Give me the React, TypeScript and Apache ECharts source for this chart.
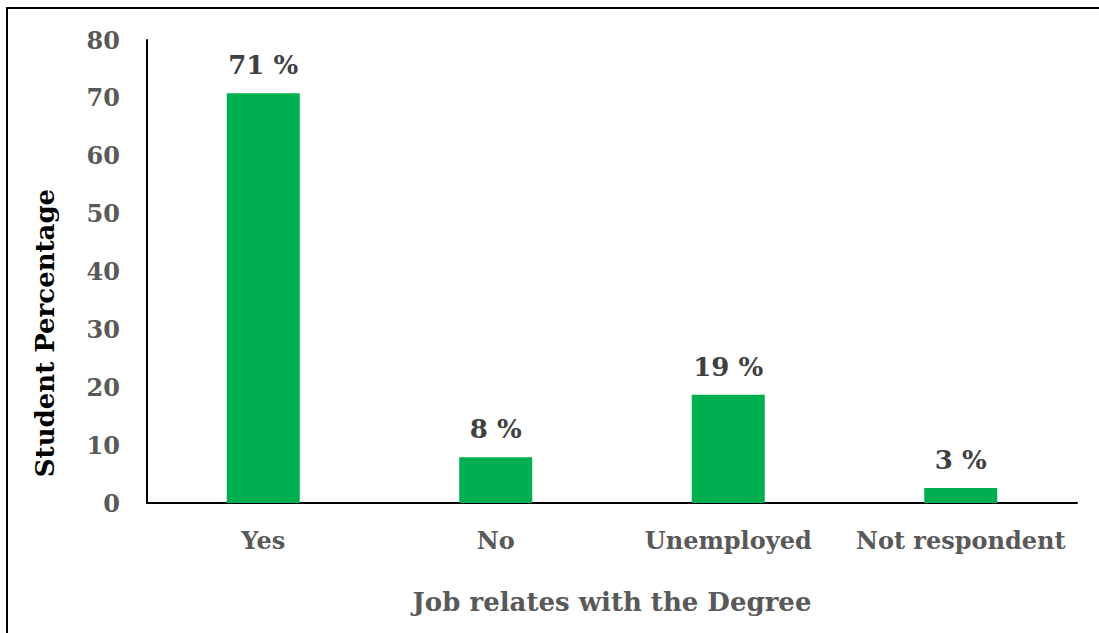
import React, { useEffect, useRef } from "react";
import * as echarts from "echarts";

const categories = ["Yes", "No", "Unemployed", "Not respondent"];
const values = [70.8, 7.9, 18.7, 2.6];
const labels = ["71 %", "8 %", "19 %", "3 %"];
const yTicks = [0, 10, 20, 30, 40, 50, 60, 70, 80];

const FONT = "'DejaVu Serif', serif";

export default function App() {
  const ref = useRef<HTMLDivElement>(null);
  useEffect(() => {
    document.body.style.margin = "0";
    const chart = echarts.init(ref.current!, null, { renderer: "svg" });
    chart.setOption({
      animation: false,
      backgroundColor: "#ffffff",
      grid: { left: 147, right: 22, top: 40, bottom: 130, containLabel: false },
      xAxis: {
        type: "category",
        data: categories,
        axisLine: { lineStyle: { color: "#000", width: 2 } },
        axisTick: { show: false },
        axisLabel: {
          color: "#595959",
          fontFamily: FONT,
          fontWeight: "bold",
          fontSize: 24,
          margin: 25,
          interval: 0,
        },
        name: "Job relates with the Degree",
        nameLocation: "middle",
        nameGap: 86,
        nameTextStyle: { color: "#595959", fontFamily: FONT, fontWeight: "bold", fontSize: 26 },
      },
      yAxis: {
        type: "value",
        min: yTicks[0],
        max: yTicks[yTicks.length - 1],
        interval: 10,
        splitLine: { show: false },
        axisLine: { show: true, lineStyle: { color: "#000", width: 2 } },
        axisTick: { show: false },
        axisLabel: {
          color: "#595959",
          fontFamily: FONT,
          fontWeight: "bold",
          fontSize: 24,
          margin: 27,
        },
      },
      graphic: [
        { type: "line", shape: { x1: 6, y1: 8, x2: 1099, y2: 8 }, style: { stroke: "#000", lineWidth: 2 } },
        { type: "line", shape: { x1: 7, y1: 8, x2: 7, y2: 633 }, style: { stroke: "#000", lineWidth: 2 } },
        {
          type: "text",
          x: 45,
          y: 333,
          rotation: Math.PI / 2,
          style: {
            text: "Student Percentage",
            fill: "#000",
            font: `bold 26px ${FONT}`,
            align: "center",
            verticalAlign: "middle",
          },
        },
      ],
      series: [
        {
          type: "bar",
          data: values,
          barWidth: 73,
          itemStyle: { color: "#00B050" },
          label: {
            show: true,
            position: "top",
            distance: 15,
            color: "#404040",
            fontFamily: FONT,
            fontWeight: "bold",
            fontSize: 26,
            formatter: (p: any) => labels[p.dataIndex],
          },
        },
      ],
    });
    return () => chart.dispose();
  }, []);
  return <div ref={ref} style={{ width: 1099, height: 633 }} />;
}
